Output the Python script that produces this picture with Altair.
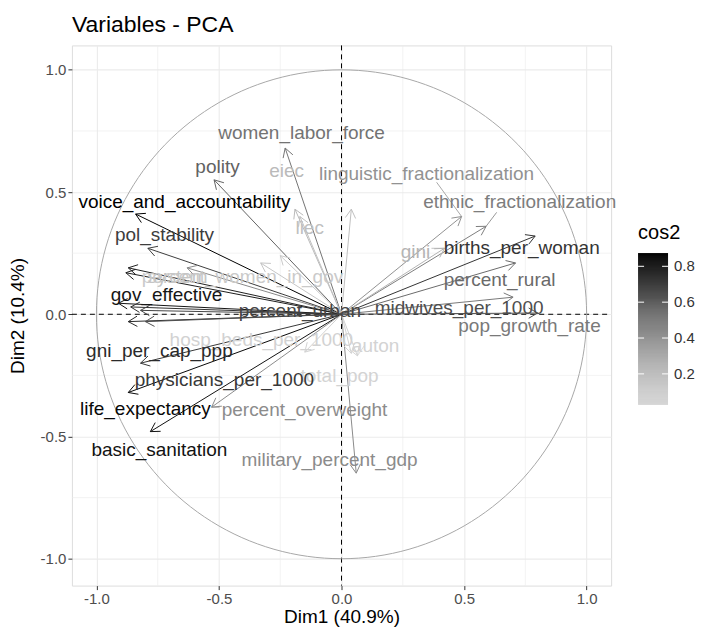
import altair as alt
import pandas as pd

# variable coordinates on Dim1 / Dim2 (arrow tips) and label positions
names = [
    "women_labor_force", "eiec", "liec", "linguistic_fractionalization", "polity",
    "ethnic_fractionalization", "voice_and_accountability", "gini", "births_per_woman",
    "pol_stability", "percent_women_in_gov", "system", "percent_rural", "gov_effective",
    "percent_urban", "midwives_per_1000", "pop_growth_rate", "hosp_beds_per_1000",
    "auton", "total_pop", "gni_per_cap_ppp", "physicians_per_1000", "life_expectancy",
    "basic_sanitation", "percent_overweight", "military_percent_gdp",
    "internet_users", "mobile_subscriptions", "rule_of_law", "press_freedom",
    "corruption_control", "regulatory_quality",
]
dim1 = [-0.23, -0.19, -0.17, 0.49, -0.52, 0.59, -0.84, 0.42, 0.79,
        -0.79, -0.25, -0.33, 0.71, -0.91,
        -0.82, 0.80, 0.70, -0.15,
        0.065, 0.04, -0.87, -0.82, -0.87,
        -0.78, -0.53, 0.06,
        -0.87, -0.88, -0.63, 0.04,
        -0.86, -0.80]
dim2 = [0.68, 0.43, 0.40, 0.40, 0.55, 0.36, 0.41, 0.27, 0.32,
        0.27, 0.24, 0.21, 0.21, 0.045,
        0.016, 0.005, 0.07, -0.155,
        -0.17, -0.16, -0.03, -0.20, -0.32,
        -0.48, -0.38, -0.65,
        0.19, 0.17, 0.19, 0.43,
        0.03, -0.03]
label_x = [-0.163, -0.224, -0.13, 0.347, -0.506, 0.727, -0.641, 0.302, 0.735,
           -0.722, -0.404, -0.669, 0.645, -0.714,
           -0.17, 0.48, 0.767, -0.327,
           0.139, -0.008, -0.743, -0.478, -0.80,
           -0.743, -0.151, -0.049,
           0, 0, 0, 0, 0, 0]
label_y = [0.74, 0.585, 0.352, 0.573, 0.601, 0.458, 0.458, 0.254, 0.27,
           0.323, 0.151, 0.151, 0.139, 0.078,
           0.014, 0.025, -0.049, -0.106,
           -0.131, -0.254, -0.151, -0.27, -0.389,
           -0.556, -0.393, -0.597,
           0, 0, 0, 0, 0, 0]
labeled = [True] * 26 + [False] * 6
# repel-segment start points (label side) for labels placed away from their arrow tip
seg_names = ["linguistic_fractionalization", "ethnic_fractionalization", "gini",
             "percent_overweight", "auton"]
seg_x = [0.388, 0.633, 0.367, -0.498, 0.094]
seg_y = [0.540, 0.417, 0.270, -0.380, -0.127]
legend_ticks = [0.2, 0.4, 0.6, 0.8]

df = pd.DataFrame({"name": names, "x": dim1, "y": dim2,
                   "lx": label_x, "ly": label_y, "labeled": labeled})
df["cos2"] = df["x"] ** 2 + df["y"] ** 2
cmin, cmax = float(df["cos2"].min()), float(df["cos2"].max())
seg_df = pd.DataFrame({"name": seg_names, "sx": seg_x, "sy": seg_y}).merge(df, on="name")

FONT = "Liberation Sans"
W, H = 540, 541
XD = [-1.1, 1.1]
YD = [-1.11, 1.1]

xs = alt.Scale(domain=XD, nice=False, zero=False)
ys = alt.Scale(domain=YD, nice=False, zero=False)
GRAD = ["#D3D3D3", "#000000"]
fill_scale = alt.Scale(type="pow", exponent=1.6, domain=[cmin, cmax], range=GRAD,
                       interpolate="lab", zero=False, nice=False)
stroke_scale = alt.Scale(type="pow", exponent=1.6, domain=[cmin, cmax], range=GRAD,
                         interpolate="lab", zero=False, nice=False)
stroke_enc = alt.Stroke("cos2:Q", scale=stroke_scale, legend=None)

base = alt.Chart(df).transform_calculate(
    ang="atan2(datum.y, datum.x)",
    w1x="datum.x - 0.042*cos(datum.ang - PI/6)",
    w1y="datum.y - 0.042*sin(datum.ang - PI/6)",
    w2x="datum.x - 0.042*cos(datum.ang + PI/6)",
    w2y="datum.y - 0.042*sin(datum.ang + PI/6)",
)

MINUS_FIX = "replace(datum.label, '\u2212', '-')"
xaxis = alt.Axis(values=[-1, -0.5, 0, 0.5, 1], format=".1f", labelExpr=MINUS_FIX,
                 title="Dim1 (40.9%)",
                 grid=True, gridColor="#EBEBEB", gridWidth=1.1, domain=False,
                 tickColor="#333333", tickSize=4, labelFontSize=15, labelFont=FONT,
                 labelColor="#4D4D4D", labelPadding=2, titleFontSize=19, titleFont=FONT,
                 titleFontWeight="normal", titleColor="#000000", titlePadding=1)
yaxis = alt.Axis(values=[-1, -0.5, 0, 0.5, 1], format=".1f", labelExpr=MINUS_FIX,
                 title="Dim2 (10.4%)",
                 grid=True, gridColor="#EBEBEB", gridWidth=1.1, domain=False,
                 tickColor="#333333", tickSize=4, labelFontSize=15, labelFont=FONT,
                 labelColor="#4D4D4D", labelPadding=2, titleFontSize=19, titleFont=FONT,
                 titleFontWeight="normal", titleColor="#000000", titlePadding=13)

minor_vals = pd.DataFrame({"v": [-0.75, -0.25, 0.25, 0.75]})
minor_x = alt.Chart(minor_vals).mark_rule(color="#EBEBEB", strokeWidth=0.6).encode(
    x=alt.X("v:Q", scale=xs, axis=xaxis), y=alt.value(0), y2=alt.value(H))
minor_y = alt.Chart(minor_vals).mark_rule(color="#EBEBEB", strokeWidth=0.6).encode(
    y=alt.Y("v:Q", scale=ys, axis=yaxis), x=alt.value(0), x2=alt.value(W))

circle = alt.Chart(alt.sequence(0, 361, 2, as_="deg")).transform_calculate(
    cx="cos(datum.deg*PI/180)", cy="sin(datum.deg*PI/180)"
).mark_line(color="#A8A8A8", strokeWidth=1).encode(
    x=alt.X("cx:Q", scale=xs), y=alt.Y("cy:Q", scale=ys), order="deg:Q")

zero = pd.DataFrame({"v": [0]})
vline = alt.Chart(zero).mark_rule(color="#000000", strokeDash=[5, 4], strokeWidth=1).encode(
    x=alt.X("v:Q", scale=xs), y=alt.value(0), y2=alt.value(H))
hline = alt.Chart(zero).mark_rule(color="#000000", strokeDash=[5, 4], strokeWidth=1).encode(
    y=alt.Y("v:Q", scale=ys), x=alt.value(0), x2=alt.value(W))

shaft = base.mark_rule(strokeWidth=1).encode(
    x=alt.X("x0:Q", scale=xs), y=alt.Y("y0:Q", scale=ys),
    x2="x:Q", y2="y:Q", stroke=stroke_enc
).transform_calculate(x0="0", y0="0")
wing1 = base.mark_rule(strokeWidth=1).encode(
    x=alt.X("x:Q", scale=xs), y=alt.Y("y:Q", scale=ys), x2="w1x:Q", y2="w1y:Q",
    stroke=stroke_enc)
wing2 = base.mark_rule(strokeWidth=1).encode(
    x=alt.X("x:Q", scale=xs), y=alt.Y("y:Q", scale=ys), x2="w2x:Q", y2="w2y:Q",
    stroke=stroke_enc)
segs = alt.Chart(seg_df).mark_rule(strokeWidth=0.8).encode(
    x=alt.X("sx:Q", scale=xs), y=alt.Y("sy:Q", scale=ys), x2="x:Q", y2="y:Q",
    stroke=stroke_enc)
labels = base.transform_filter("datum.labeled").mark_text(
    font=FONT, fontSize=19, align="center", baseline="middle").encode(
    x=alt.X("lx:Q", scale=xs), y=alt.Y("ly:Q", scale=ys), text="name:N",
    color=alt.Color("cos2:Q", scale=fill_scale, legend=None))

main = alt.layer(minor_x, minor_y, vline, hline, circle, shaft, wing1, wing2, segs, labels)

# ---- colour bar legend (own y scale: bar 152 px tall, top 208 px below plot top)
BAR_TOP, BAR_LEN = 208, 152
ppu = BAR_LEN / (cmax - cmin)
leg_scale = alt.Scale(domain=[cmin - (H - BAR_TOP - BAR_LEN) / ppu, cmax + BAR_TOP / ppu],
                      nice=False, zero=False)
step = (cmax - cmin) / 150
bar = alt.Chart(alt.sequence(cmin, cmax, step, as_="c")).transform_calculate(
    c2=f"min(datum.c + {step * 1.6}, {cmax})"
).mark_rect(stroke=None).encode(
    x=alt.value(567), x2=alt.value(597),
    y=alt.Y("c:Q", scale=leg_scale, axis=None), y2="c2:Q",
    color=alt.Color("c:Q", scale=fill_scale, legend=None))
tick_df = pd.DataFrame({"t": legend_ticks})
tick_l = alt.Chart(tick_df).mark_rule(color="white", strokeWidth=1).encode(
    x=alt.value(567), x2=alt.value(573), y=alt.Y("t:Q", scale=leg_scale, axis=None))
tick_r = alt.Chart(tick_df).mark_rule(color="white", strokeWidth=1).encode(
    x=alt.value(591), x2=alt.value(597), y=alt.Y("t:Q", scale=leg_scale, axis=None))
tick_txt = alt.Chart(tick_df).transform_calculate(
    lab="format(datum.t, '.1f')"
).mark_text(font=FONT, fontSize=15, align="left", baseline="middle", color="#333333").encode(
    x=alt.value(603), y=alt.Y("t:Q", scale=leg_scale, axis=None), text="lab:N")
leg_title = alt.Chart(pd.DataFrame({"s": ["cos2"]})).mark_text(
    font=FONT, fontSize=20, align="left", baseline="middle", color="#000000").encode(
    x=alt.value(567), y=alt.value(BAR_TOP - 20), text="s:N")
legend_layer = alt.layer(bar, tick_l, tick_r, tick_txt, leg_title)

chart = alt.layer(main, legend_layer).resolve_scale(y="independent").properties(
    width=W, height=H,
    padding={"left": 0, "top": 5, "right": 0, "bottom": 0},
    title=alt.TitleParams("Variables - PCA", anchor="start", frame="group", fontSize=23,
                          font=FONT, fontWeight="normal", color="#000000", offset=8),
).configure_view(stroke=None).configure(background="white")

chart.save("out.html", embed_options={"renderer": "svg", "actions": False})
